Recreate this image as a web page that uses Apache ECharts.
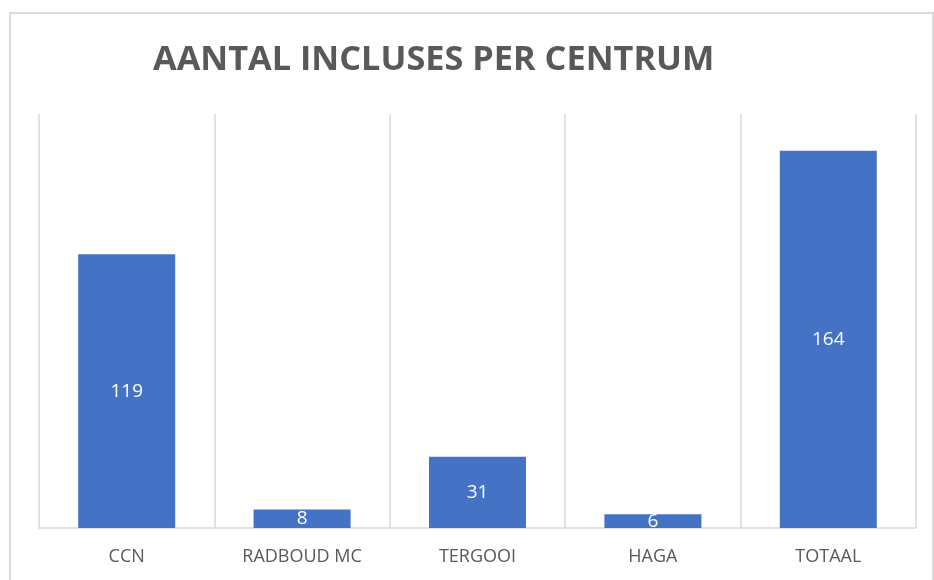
<!DOCTYPE html>
<html>
<head>
<meta charset="utf-8">
<script src="https://cdn.jsdelivr.net/npm/echarts@6/dist/echarts.min.js"></script>
<style>
  html, body { margin: 0; padding: 0; background: #fff; }
  #chart { width: 934px; height: 580px; }
</style>
</head>
<body>
<div id="chart"></div>
<script>
const categories = ["CCN", "RADBOUD MC", "TERGOOI", "HAGA", "TOTAAL"];
const inclusies = [119, 8, 31, 6, 164];

var myChart = echarts.init(document.getElementById("chart"));
var option = {
  animation: false,
  backgroundColor: "#fff",
  textStyle: { fontFamily: "Open Sans" },
  title: {
    text: "AANTAL INCLUSES PER CENTRUM",
    left: 148,
    top: 38,
    textStyle: {
      fontFamily: "Open Sans",
      fontWeight: "bold",
      fontSize: 34.3,
      color: "#595959",
    },
  },
  graphic: [
    {
      type: "rect",
      shape: { x: 10, y: 13, width: 923, height: 620 },
      style: { fill: "none", stroke: "#d9d9d9", lineWidth: 2 },
      silent: true,
    },
  ],
  grid: {
    left: 39,
    right: 18,
    top: 114,
    bottom: 52,
  },
  xAxis: {
    type: "category",
    data: categories,
    axisLine: { lineStyle: { color: "#d9d9d9", width: 1.5 } },
    axisTick: { show: false },
    axisLabel: {
      color: "#595959",
      fontSize: 18,
      margin: 20,
      fontFamily: "Open Sans",
    },
    splitLine: { show: true, lineStyle: { color: "#d9d9d9", width: 1.5 } },
  },
  yAxis: {
    type: "value",
    min: 0,
    max: 180,
    show: false,
  },
  series: [
    {
      name: "Aantal",
      type: "bar",
      data: inclusies,
      barWidth: 97,
      itemStyle: { color: "#4472C4" },
      label: {
        show: true,
        position: "inside",
        color: "#fff",
        fontSize: 19,
        fontFamily: "Open Sans",
      },
    },
  ],
};
myChart.setOption(option);
</script>
</body>
</html>
